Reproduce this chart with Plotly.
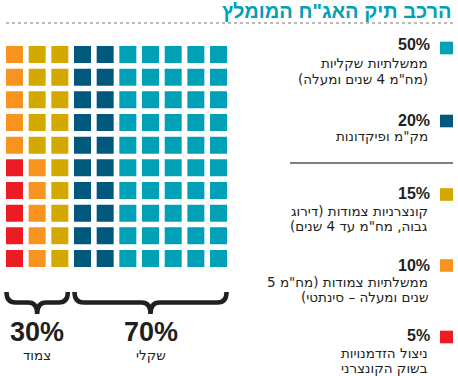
import plotly.graph_objects as go

# ---- data ----
title = "הרכב תיק האג\"ח המומלץ"
shares = [50, 20, 15, 10, 5]
pct_labels = ["50%", "20%", "15%", "10%", "5%"]
desc_lines = [
    ["ממשלתיות שקליות", "(מח\"מ 4 שנים ומעלה)"],
    ["מק\"מ ופיקדונות"],
    ["קונצרניות צמודות (דירוג", "גבוה, מח\"מ עד 4 שנים)"],
    ["ממשלתיות צמודות (מח\"מ 5", "שנים ומעלה – סינתטי)"],
    ["ניצול הזדמנויות", "בשוק הקונצרני"],
]
colors = ["#00A0B6", "#00587C", "#D3A900", "#F7931E", "#EC1C24"]
linked = [False, False, True, True, True]
group_labels = {False: "שקלי", True: "צמוד"}

W, H = 458, 376
NCOL, NROW = 10, 10
RLM = "\u200f"

# ---- waffle assignment: fill columns right-to-left, top-to-bottom ----
cells_x, cells_y, cells_c, cells_k = [], [], [], []
cat_seq = []
for k, s in enumerate(shares):
    cat_seq += [k] * s
i = 0
for col in range(NCOL - 1, -1, -1):
    for row in range(NROW):
        k = cat_seq[i]
        cells_x.append(col)
        cells_y.append(row)
        cells_c.append(colors[k])
        cells_k.append(k)
        i += 1

# grid pixel geometry
px0, pitch = 14.5, 22.67
py0 = 54.5
x_lo = px0 - pitch / 2
x_hi = px0 + pitch * (NCOL - 0.5)
y_lo = py0 - pitch / 2
y_hi = py0 + pitch * (NROW - 0.5)


def PX(x):
    return x / W


def PY(y):
    return 1 - y / H


fig = go.Figure()
fig.add_trace(go.Scatter(
    x=cells_x, y=cells_y, mode="markers",
    marker=dict(symbol="square", size=17, color=cells_c, line=dict(width=0)),
    hoverinfo="skip",
))

shapes = []
annotations = []
FONT = "Liberation Sans, Arial, DejaVu Sans, sans-serif"
TFONT = "DejaVu Sans, Liberation Sans, sans-serif"


def ann(x, y, text, size, color="#231F20", bold=False, xanchor="right",
        yanchor="middle", family=FONT):
    f = dict(family=family, size=size, color=color)
    if bold:
        f["weight"] = "bold"
    annotations.append(dict(x=PX(x), y=PY(y), xref="paper", yref="paper", text=text,
                            showarrow=False, xanchor=xanchor, yanchor=yanchor, font=f,
                            align="right" if xanchor == "right" else "center",
                            borderpad=0))


# title + dotted rule
ann(453, 11, RLM + title + RLM, 20, color="#00A0B6", bold=True)
shapes.append(dict(type="line", xref="paper", yref="paper", x0=PX(6), x1=PX(453),
                   y0=PY(23), y1=PY(23), line=dict(color="#777777", width=1.2, dash="dot")))

# legend
sq_centers = [48, 121, 194.5, 265.5, 337]
pct_y = [45, 120, 193, 265, 335]
desc_y = [[63, 78.5], [136], [211, 226], [281.5, 296.5], [353, 368]]
for k in range(len(shares)):
    c = sq_centers[k]
    shapes.append(dict(type="rect", xref="paper", yref="paper", x0=PX(440), x1=PX(453),
                       y0=PY(c - 6.3), y1=PY(c + 6.3), fillcolor=colors[k], line=dict(width=0)))
    ann(431, pct_y[k], pct_labels[k], 16, bold=True)
    for j, line in enumerate(desc_lines[k]):
        ann(429, desc_y[k][j], RLM + line + RLM, 13.5, family=TFONT)
shapes.append(dict(type="line", xref="paper", yref="paper", x0=PX(290), x1=PX(453),
                   y0=PY(163), y1=PY(163), line=dict(color="#555555", width=1.5)))


# braces under groups
def col_px(c):
    return px0 + pitch * c


for grp in (True, False):
    cols = sorted({cells_x[n] for n in range(len(cells_x)) if linked[cells_k[n]] == grp})
    total = sum(s for s, l in zip(shares, linked) if l == grp)
    xa = col_px(min(cols)) - 8
    xb = col_px(max(cols)) + 8
    xm = (xa + xb) / 2
    yt, ym, yb = 292, 302.5, 314
    r = 9
    pts = [("M", xa, yt), ("Q", xa, ym), ("", xa + r, ym), ("L", xm - r, ym),
           ("Q", xm, ym), ("", xm, yb), ("Q", xm, ym), ("", xm + r, ym),
           ("L", xb - r, ym), ("Q", xb, ym), ("", xb, yt)]
    path = " ".join(f"{cmd}{PX(x):.5f},{PY(y):.5f}" for cmd, x, y in pts)
    shapes.append(dict(type="path", xref="paper", yref="paper", path=path,
                       line=dict(color="#231F20", width=4.5)))
    ann(xm, 331.5, f"{total}%", 27, bold=True, xanchor="center")
    ann(xm, 354.5, RLM + group_labels[grp] + RLM, 13.5, xanchor="center", family=TFONT)

fig.update_layout(
    width=W, height=H, margin=dict(l=0, r=0, t=0, b=0),
    paper_bgcolor="white", plot_bgcolor="rgba(0,0,0,0)", showlegend=False,
    xaxis=dict(domain=[x_lo / W, x_hi / W], range=[-0.5, NCOL - 0.5], visible=False, fixedrange=True),
    yaxis=dict(domain=[1 - y_hi / H, 1 - y_lo / H], range=[NROW - 0.5, -0.5], visible=False, fixedrange=True),
    shapes=shapes, annotations=annotations,
)
fig.write_html("out.html", config={"displayModeBar": False},
               post_script="document.body.style.margin='0px';document.body.style.overflow='hidden';")
